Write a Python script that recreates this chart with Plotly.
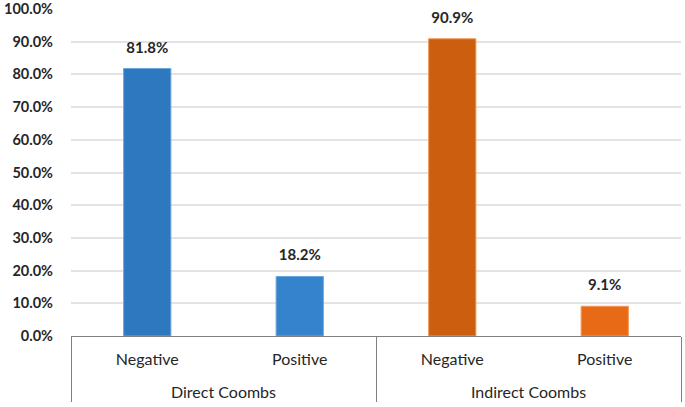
import plotly.graph_objects as go

groups = ["Direct Coombs", "Direct Coombs", "Indirect Coombs", "Indirect Coombs"]
results = ["Negative", "Positive", "Negative", "Positive"]
values = [81.8, 18.2, 90.9, 9.1]
bar_colors = ["#2E78BF", "#3583CC", "#CC5E10", "#E86A16"]
line_colors = ["#6AA8DE", "#6AA8DE", "#F29A5C", "#F29A5C"]
y_ticks = [0, 10, 20, 30, 40, 50, 60, 70, 80, 90, 100]

group_labels = ["<br>" + g for g in groups]

fig = go.Figure()
fig.add_trace(go.Bar(
    x=[group_labels, results],
    y=values,
    width=0.31,
    marker=dict(color=bar_colors, line=dict(color=line_colors, width=1)),
    hoverinfo="skip",
))
fig.add_trace(go.Scatter(
    x=[group_labels, results],
    y=values,
    mode="markers+text",
    marker=dict(size=18, opacity=0),
    texttemplate="<b>%{y:.1f}%</b>",
    textposition="top center",
    textfont=dict(family="Lato", size=15, color="#262626"),
    cliponaxis=False,
    hoverinfo="skip",
))

fig.update_layout(
    width=685, height=407,
    margin=dict(l=71, r=4, t=9, b=71, autoexpand=False),
    plot_bgcolor="white", paper_bgcolor="white",
    showlegend=False,
    font=dict(family="Lato", color="#262626"),
)
fig.update_yaxes(
    range=[0, 100], tickvals=y_ticks,
    ticktext=[f"<b>{v:.1f}%</b>" for v in y_ticks],
    tickfont=dict(size=14.5, color="#262626"),
    showgrid=True, gridcolor="#E3E3E3", gridwidth=1.5,
    zeroline=False, showline=False, ticks="", ticklen=0,
    ticklabelstandoff=17, automargin=False, ticklabeloverflow="allow",
)
fig.update_xaxes(
    type="multicategory",
    showline=True, linecolor="#808080", linewidth=1,
    showdividers=True, dividercolor="#808080", dividerwidth=1,
    tickfont=dict(size=16, color="#262626"),
    ticks="", automargin=False, ticklabelstandoff=9,
)
fig.write_html("out.html", config={"displayModeBar": False},
               post_script="document.body.style.margin='0';document.body.style.padding='0';")
